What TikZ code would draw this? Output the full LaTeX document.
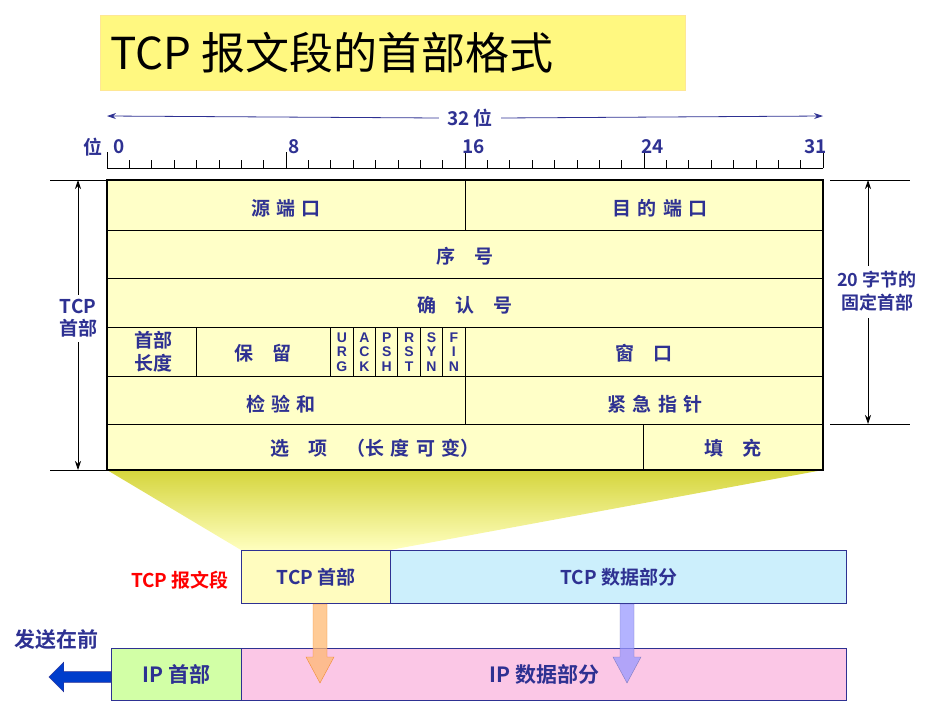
\documentclass[tikz,border=0pt]{standalone}
\usepackage{fontspec}
\setmainfont{Noto Sans CJK SC Bold}
\newfontfamily\titlefont{Noto Sans CJK SC}
\newfontfamily\flagfont{Liberation Sans Bold}
\usetikzlibrary{arrows.meta,shapes.arrows}
\definecolor{navy}{HTML}{2E3192}
\definecolor{cell}{HTML}{FFFFC8}
\begin{document}
\begin{tikzpicture}[x=1pt,y=-1pt,
  lab/.style={text=navy,font=\fontsize{19}{21}\selectfont,inner sep=0pt},
  flag/.style={text=navy,font=\flagfont\fontsize{14}{14.5}\selectfont,align=center,inner sep=0pt},
  bx/.style={draw=navy,line width=1.3pt},
  dim/.style={navy,line width=0.8pt,-{Stealth[length=9pt,width=6pt]}}]
\useasboundingbox (0,0) rectangle (938,704);
% title
\node[draw=yellow!60!orange!40,fill=yellow!50,minimum width=585,minimum height=75,anchor=north west] (tb) at (100,15) {};
\node[anchor=west,inner sep=0pt,font=\titlefont\fontsize{44}{48}\selectfont] (title) at (110,53) {TCP 报文段的首部格式};
% 32 bit arrow
\node[lab] (b32) at (470,118) {32 位};
\coordinate (aL) at (107,116); \coordinate (aR) at (823,116);
\draw[dim] (b32.west) ++(-8,0) -- (aL);
\draw[dim] (b32.east) ++(8,0) -- (aR);
% ruler
\draw[line width=0.6pt] (107,168) -- (823,168);
\foreach \i in {0,...,32}{\draw[line width=0.6pt] ({107+22.375*\i},168) -- ({107+22.375*\i},160);}
\foreach \i in {0,8,16,24}{\draw[line width=0.6pt] ({107+22.375*\i},168) -- ({107+22.375*\i},152);}
\draw[line width=0.6pt] (823,168) -- (823,152);
\node[lab,anchor=west] (w0) at (113,147) {0};
\node[lab,anchor=west] (w8) at (288,147) {8};
\node[lab,anchor=west] (w16) at (462,147) {16};
\node[lab,anchor=west] (w24) at (641,147) {24};
\node[lab,anchor=east] (w31) at (827,147) {31};
\node[lab] (wei) at (93,147) {位};
% trapezoid
\shade[top color=yellow!45!olive!60,bottom color=yellow!25] (107,470) -- (823,470) -- (390,550) -- (241,550) -- cycle;
% table
\fill[cell] (107,180) rectangle (823,470);
\foreach \y in {230,278,327,376,424}{\draw[line width=0.8pt] (107,\y) -- (823,\y);}
\draw[line width=0.8pt] (465,180) -- (465,230);
\draw[line width=0.8pt] (196,327) -- (196,376);
\foreach \i in {10,...,16}{\draw[line width=0.8pt] ({107+22.375*\i},327) -- ({107+22.375*\i},376);}
\draw[line width=0.8pt] (465,376) -- (465,424);
\draw[line width=0.8pt] (643,424) -- (643,470);
\draw[line width=2pt] (107,180) rectangle (823,470);
\node[lab] (sp) at (286,208) {源\,\,端\,\,口};
\node[lab] (dp) at (660,208) {目\,\,的\,\,端\,\,口};
\node[lab] (seq) at (465,256) {序\quad 号};
\node[lab] (ack) at (465,305) {确\quad 认\quad 号};
\node[lab,align=center,font=\fontsize{19}{23}\selectfont] (hl) at (153,352) {首部\\长度};
\node[lab] (rs) at (263,353) {保\quad 留};
\foreach \f [count=\k from 0] in {U\\R\\G,A\\C\\K,P\\S\\H,R\\S\\T,S\\Y\\N,F\\I\\N}{
  \node[flag] (f\k) at ({107+22.375*(10.5+\k)},352) {\f};}
\node[lab] (win) at (644,353) {窗\quad 口};
\node[lab] (cs) at (281,404) {检\,\,验\,\,和};
\node[lab] (up) at (655,404) {紧\,\,急\,\,指\,\,针};
\node[lab] (opt) at (375,448) {选\quad 项\quad （长\,\,度\,\,可\,\,变）};
\node[lab] (pad) at (733,448) {填\quad 充};
% left dimension
\draw[line width=0.6pt] (50,180) -- (107,180) (50,470) -- (107,470);
\coordinate (l1) at (78,180); \coordinate (l2) at (78,470);
\draw[black,line width=0.8pt,{Stealth[length=9pt,width=6pt]}-{Stealth[length=9pt,width=6pt]}] (l1) -- (l2);
\fill[white] (55,295) rectangle (101,342);
\node[lab,align=center,font=\fontsize{19}{22}\selectfont] (tcph) at (78,318) {TCP\\首部};
% right dimension
\draw[line width=0.6pt] (830,180) -- (910,180) (830,424) -- (910,424);
\coordinate (r1) at (868,180); \coordinate (r2) at (868,424);
\draw[black,line width=0.8pt,{Stealth[length=9pt,width=6pt]}-{Stealth[length=9pt,width=6pt]}] (r1) -- (r2);
\fill[white] (826,266) rectangle (932,318);
\node[lab,align=center,font=\fontsize{18}{23}\selectfont] (fix) at (877,291) {20 字节的\\固定首部};
% bottom boxes
\node[bx,fill=yellow!25,minimum width=149,minimum height=53,anchor=north west,lab] (th) at (241,550) {TCP 首部};
\node[bx,fill=cyan!20,minimum width=456,minimum height=53,anchor=north west,lab] (td) at (390,550) {TCP 数据部分};
\node[lab,text=red,anchor=east] (seg) at (229,580) {TCP 报文段};
\node[bx,fill=green!50!yellow!35,minimum width=130,minimum height=52,anchor=north west,lab,font=\fontsize{21}{23}\selectfont] (ih) at (111,648) {IP 首部};
\node[bx,fill=magenta!22,minimum width=605,minimum height=52,anchor=north west,lab,font=\fontsize{21}{23}\selectfont] (id) at (241,648) {IP 数据部分};
\node[lab,anchor=west,font=\fontsize{21}{23}\selectfont] (fq) at (14,640) {发送在前};
\node[single arrow,draw=navy,fill=blue!70!cyan!80!black,shape border rotate=180,minimum height=62,minimum width=30,single arrow head extend=4pt,inner sep=2pt,anchor=east] (sa) at (111,677) {};
% down arrows
\fill[orange!55,fill opacity=0.75,draw=orange!70!brown,draw opacity=0.8] (313,604) -- (327,604) -- (327,657) -- (334,657) -- (320,683) -- (306,657) -- (313,657) -- cycle;
\fill[blue!40,fill opacity=0.75,draw=navy!70,draw opacity=0.8] (620,604) -- (634,604) -- (634,657) -- (641,657) -- (627,683) -- (613,657) -- (620,657) -- cycle;
\end{tikzpicture}
\end{document}
